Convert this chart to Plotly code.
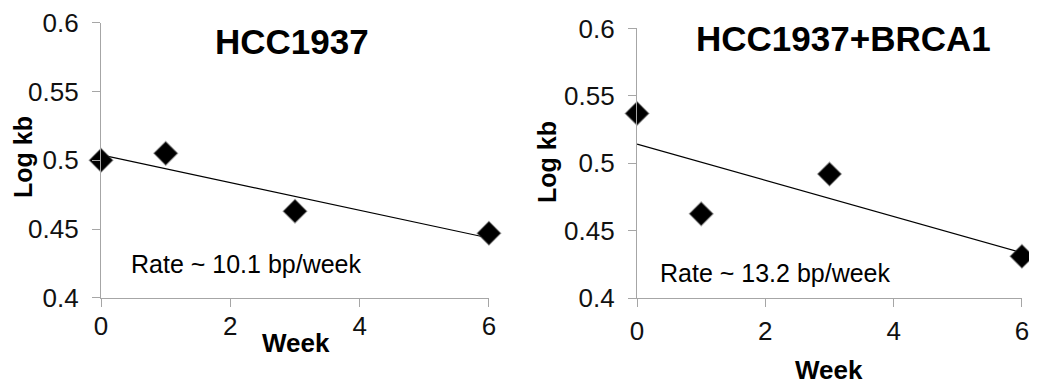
import numpy as np
import plotly.graph_objects as go

weeks = [0, 1, 3, 6]
hcc1937 = [0.500, 0.505, 0.463, 0.447]
hcc1937_brca1 = [0.537, 0.4625, 0.492, 0.431]
titles = ["HCC1937", "HCC1937+BRCA1"]
rates = ["Rate ~ 10.1 bp/week", "Rate ~ 13.2 bp/week"]
x_ticks = [0, 2, 4, 6]
y_ticks = [0.4, 0.45, 0.5, 0.55, 0.6]
y_tick_text = ["0.4", "0.45", "0.5", "0.55", "0.6"]

FONT = "Liberation Sans, Arial, sans-serif"
AXIS_COLOR = "#a6a6a6"

# page body has an 8px margin: lay out in window pixels and convert
OFF = 8
W, H = 1037 - OFF, 387 - OFF


def fx(px):
    return (px - OFF) / W


def fy(py):
    return 1 - (py - OFF) / H


fig = go.Figure()

series = [hcc1937, hcc1937_brca1]
axes = [("x", "y"), ("x2", "y2")]
for vals, (xa, ya) in zip(series, axes):
    slope, intercept = np.polyfit(weeks, vals, 1)
    xs = [min(weeks), max(weeks)]
    fig.add_trace(go.Scatter(x=xs, y=[intercept + slope * v for v in xs], mode="lines",
                             line=dict(color="black", width=1.2), xaxis=xa, yaxis=ya,
                             showlegend=False, hoverinfo="skip", cliponaxis=False))
    fig.add_trace(go.Scatter(x=weeks, y=vals, mode="markers",
                             marker=dict(symbol="diamond", size=18, color="black",
                                         line=dict(width=1.5, color="rgba(70,70,70,0.45)")),
                             xaxis=xa, yaxis=ya, showlegend=False, cliponaxis=False))

axis_common = dict(showgrid=False, zeroline=False, showline=True, linecolor=AXIS_COLOR,
                   linewidth=1.2, ticks="outside", tickcolor=AXIS_COLOR, ticklen=8,
                   tickwidth=1.2, automargin=False, ticklabeloverflow="allow",
                   tickfont=dict(family=FONT, size=26, color="#111111"))

Y_RANGE = [0.4 - 1e-4, 0.6 + 1e-4]
X_RANGE = [0 - 1e-3, 6 + 1e-3]

fig.update_layout(
    template="none",
    width=W, height=H, margin=dict(l=0, r=0, t=0, b=0, autoexpand=False),
    paper_bgcolor="white", plot_bgcolor="white", showlegend=False,
    xaxis=dict(domain=[fx(101), fx(489)], range=X_RANGE, tickvals=x_ticks, anchor="y",
               ticklabelstandoff=-3, **axis_common),
    yaxis=dict(domain=[fy(298), fy(22.5)], range=Y_RANGE, tickvals=y_ticks, ticktext=y_tick_text,
               anchor="x", ticklabelstandoff=8, **axis_common),
    xaxis2=dict(domain=[fx(637), fx(1022)], range=X_RANGE, tickvals=x_ticks, anchor="y2",
                ticklabelstandoff=1, **axis_common),
    yaxis2=dict(domain=[fy(298.3), fy(28.3)], range=Y_RANGE, tickvals=y_ticks, ticktext=y_tick_text,
                anchor="x2", ticklabelstandoff=8, **axis_common),
)

ann = []
# titles
ann.append(dict(text="<b>%s</b>" % titles[0], x=292, y=41, font=dict(size=35)))
ann.append(dict(text="<b>%s</b>" % titles[1], x=843, y=38, font=dict(size=35)))
# rate texts
ann.append(dict(text=rates[0], x=246, y=264, font=dict(size=25)))
ann.append(dict(text=rates[1], x=775, y=273, font=dict(size=25)))
# axis titles
ann.append(dict(text="<b>Week</b>", x=296, y=343, font=dict(size=26)))
ann.append(dict(text="<b>Week</b>", x=829, y=370, font=dict(size=26)))
ann.append(dict(text="<b>Log kb</b>", x=23, y=157, font=dict(size=25), textangle=-90))
ann.append(dict(text="<b>Log kb</b>", x=547, y=162, font=dict(size=25), textangle=-90))

for a in ann:
    px, py = a.pop("x"), a.pop("y")
    f = a.pop("font")
    f.update(family=FONT, color="black")
    fig.add_annotation(x=fx(px), y=fy(py), xref="paper", yref="paper",
                       xanchor="center", yanchor="middle", showarrow=False, font=f, **a)

fig.write_html("out.html")
